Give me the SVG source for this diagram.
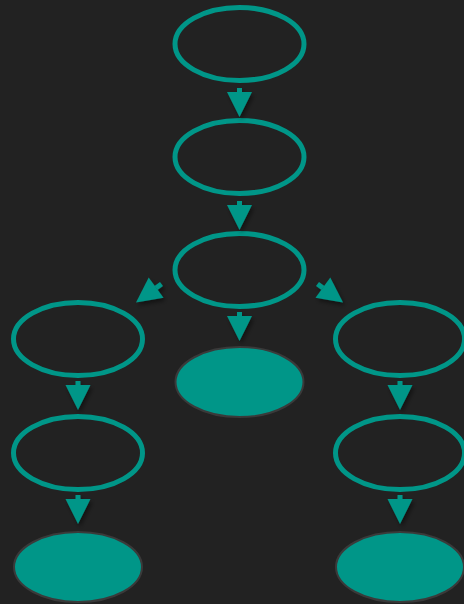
<svg xmlns="http://www.w3.org/2000/svg" width="464" height="604" viewBox="0 0 464 604">
<defs>
<filter id="sh" x="-50%" y="-50%" width="200%" height="200%"><feDropShadow dx="2" dy="3" stdDeviation="2" flood-color="#000" flood-opacity="0.45"/></filter>
<style>
.n{fill:none;stroke:#009688;stroke-width:5}
.f{fill:#009688;stroke:#3a3a3a;stroke-width:2}
.s{stroke:#009688;stroke-width:5;fill:none}
.h{fill:#009688;stroke:none}
</style>
</defs>
<rect width="464" height="604" fill="#222222"/>
<g id="n1"><ellipse class="n" cx="239.5" cy="44" rx="64.5" ry="36.5"/></g>
<g id="n2"><ellipse class="n" cx="239.5" cy="157" rx="64.5" ry="36.5"/></g>
<g id="n3"><ellipse class="n" cx="239.5" cy="270" rx="64.5" ry="36.5"/></g>
<g id="n4"><ellipse class="f" cx="239.5" cy="382" rx="64" ry="35"/></g>
<g id="l1"><ellipse class="n" cx="78" cy="339" rx="64.5" ry="36.5"/></g>
<g id="l2"><ellipse class="n" cx="78" cy="453" rx="64.5" ry="36.5"/></g>
<g id="l3"><ellipse class="f" cx="78" cy="567" rx="64" ry="35"/></g>
<g id="r1"><ellipse class="n" cx="400" cy="339" rx="64.5" ry="36.5"/></g>
<g id="r2"><ellipse class="n" cx="400" cy="453" rx="64.5" ry="36.5"/></g>
<g id="r3"><ellipse class="f" cx="400" cy="567" rx="64" ry="35"/></g>
<g id="connectors" filter="url(#sh)">
<line class="s" x1="239.5" y1="88" x2="239.5" y2="93"/><polygon class="h" points="227,92 252,92 239.5,117"/>
<line class="s" x1="239.5" y1="201" x2="239.5" y2="206"/><polygon class="h" points="227,205 252,205 239.5,230"/>
<line class="s" x1="239.5" y1="312" x2="239.5" y2="317"/><polygon class="h" points="227,316 252,316 239.5,341"/>
<line class="s" x1="161.5" y1="284" x2="156" y2="288"/><polygon class="h" points="163.5,297.7 148.7,277.5 136,302.5"/>
<line class="s" x1="317.5" y1="284" x2="323" y2="288"/><polygon class="h" points="315.5,297.7 330.3,277.5 343,302.5"/>
<line class="s" x1="78" y1="381" x2="78" y2="386"/><polygon class="h" points="65.5,385 90.5,385 78,410"/>
<line class="s" x1="78" y1="495" x2="78" y2="500"/><polygon class="h" points="65.5,499 90.5,499 78,524"/>
<line class="s" x1="400" y1="381" x2="400" y2="386"/><polygon class="h" points="387.5,385 412.5,385 400,410"/>
<line class="s" x1="400" y1="495" x2="400" y2="500"/><polygon class="h" points="387.5,499 412.5,499 400,524"/>
</g>
</svg>
